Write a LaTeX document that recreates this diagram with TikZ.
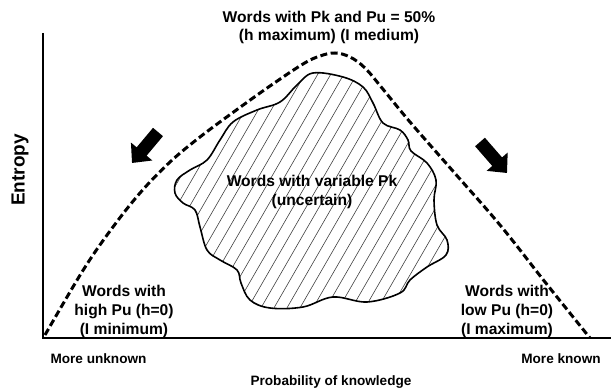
\documentclass[tikz,border=0pt]{standalone}
\usepackage{fontspec}
\setmainfont{Liberation Sans}
\usetikzlibrary{arrows.meta}
\tikzset{
  lbl/.style={font=\fontsize{15.6}{18.7}\selectfont\bfseries, align=center, inner sep=0pt},
  axlbl/.style={font=\fontsize{13.6}{16}\selectfont\bfseries, inner sep=0pt},
  axisline/.style={line width=1.3pt},
  envelope/.style={line width=3pt, dash pattern=on 7pt off 3.5pt},
  blobline/.style={line width=1.6pt, line join=round},
  hatch/.style={line width=0.6pt, black!75},
  bigarrow/.style={line width=13pt, -{Triangle[length=15pt,width=27pt]}}
}
\begin{document}
\begin{tikzpicture}[x=1pt,y=-1pt]
\useasboundingbox (0,0) rectangle (611,390);
% axes
\coordinate (otop) at (43,33);
\coordinate (o) at (43,338);
\coordinate (xend) at (611,338);
\draw[axisline] (otop) -- (o) -- (xend);
% envelope
\draw[envelope] plot[smooth, tension=0.6] coordinates {(45,335) (82,272) (110,231) (140,193) (170,162) (200,137) (235,111) (270,86) (303,64) (320,56) (335,53) (350,57) (365,68) (382,88) (410,122) (452,170) (500,225) (545,282) (590,338)};
% blob
\def\blobpath{plot[smooth cycle, tension=0.6] coordinates {(313,73) (343,77) (363,87) (373,103) (383,123) (400,130) (408,140) (411,151) (427,163) (436,180) (434,200) (437,225) (447,240) (446,255) (427,267) (410,280) (400,293) (367,302) (333,297) (303,307) (270,308) (250,300) (241,283) (237,270) (220,260) (207,250) (200,227) (195,210) (183,203) (175,193) (177,180) (190,170) (207,160) (220,140) (233,122) (257,110) (280,102) (297,85)}}
\begin{scope}
\clip \blobpath;
\foreach \x in {20,33,...,470} {
  \draw[hatch] (\x,320) -- ++(150,-260);
}
\end{scope}
\draw[blobline] \blobpath;
% arrows
\coordinate (la0) at (158,132);
\coordinate (la1) at (132,163);
\coordinate (ra0) at (480,142);
\coordinate (ra1) at (507,173);
\draw[bigarrow] (la0) -- (la1);
\draw[bigarrow] (ra0) -- (ra1);
% labels
\node[lbl] (top) at (329,27.5) {Words with Pk and Pu = 50\%\\(h maximum) (I medium)};
\node[lbl] (mid) at (312,192) {Words with variable Pk\\(uncertain)};
\node[lbl] (left) at (124,311.5) {Words with\\high Pu (h=0)\\(I minimum)};
\node[lbl] (right) at (507,311.5) {Words with\\low Pu (h=0)\\(I maximum)};
\node[axlbl] (unk) at (98.5,359) {More unknown};
\node[axlbl] (kn) at (561,359) {More known};
\node[axlbl] (xl) at (331,382) {Probability of knowledge};
\node[font=\fontsize{19}{22}\selectfont\bfseries, rotate=90, inner sep=0pt] (yl) at (20,170) {Entropy};
\end{tikzpicture}
\end{document}
